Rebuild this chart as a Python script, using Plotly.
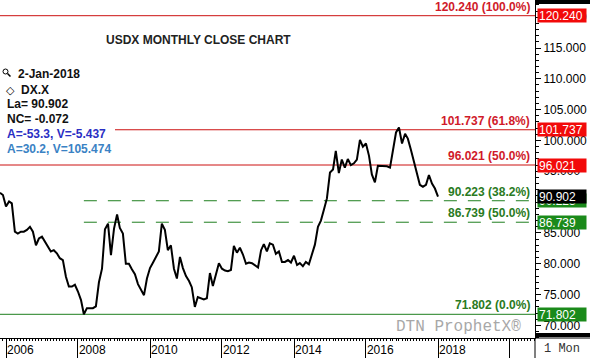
import pandas as pd
import plotly.graph_objects as go

W, H = 590, 358

# ---------------- data ----------------
month_start = "2005-11-01"
month_end = "2018-01-01"
closes = [
    91.5, 91.15,                                                            # Nov-Dec 2005
    89.3, 90.1, 89.8, 85.2, 84.9, 85.2, 85.2, 85.5, 86.0, 85.2, 83.0, 84.1,  # 2006
    84.4, 83.6, 83.0, 82.0, 82.2, 81.7, 80.9, 80.6, 77.9, 76.3, 76.3, 76.6,  # 2007
    75.5, 74.1, 71.802, 72.8, 72.8, 72.8, 73.1, 77.0, 79.2, 85.6, 86.5, 81.4,  # 2008
    85.7, 88.0, 85.8, 84.9, 80.0, 80.0, 79.1, 78.3, 76.7, 75.9, 74.9, 77.6,  # 2009
    79.3, 80.2, 81.0, 82.0, 86.5, 85.5, 82.2, 83.0, 79.2, 77.6, 81.1, 79.3,  # 2010
    78.0, 77.2, 76.2, 73.0, 74.6, 74.4, 74.2, 74.4, 78.5, 76.4, 78.4, 80.1,  # 2011
    79.2, 78.9, 78.8, 79.0, 82.9, 81.8, 82.6, 81.5, 80.0, 80.2, 80.1, 79.8,  # 2012
    79.4, 82.2, 83.2, 82.0, 83.3, 83.1, 81.6, 82.0, 80.3, 80.3, 80.6, 80.2,  # 2013
    81.3, 79.8, 80.1, 79.6, 80.3, 79.9, 81.6, 83.1, 86.0, 87.0, 88.8, 90.6,  # 2014
    94.8, 95.3, 98.3, 94.7, 96.9, 95.6, 97.0, 96.0, 96.3, 96.9, 100.1, 99.0,  # 2015
    99.5, 97.5, 94.5, 93.2, 95.9, 95.9, 95.8, 95.8, 95.6, 98.5, 101.3, 102.1,  # 2016
    99.5, 101.1, 100.3, 98.5, 96.6, 94.8, 92.8, 92.5, 92.8, 94.4, 93.0, 92.2,  # 2017
    90.902,                                                                  # Jan 2018
]
dates = pd.date_range(month_start, month_end, freq="MS")

fib_levels = [120.240, 101.737, 96.021, 90.223, 86.739, 71.802]
fib_pcts = ["100.0%", "61.8%", "50.0%", "38.2%", "50.0%", "0.0%"]
fib_kind = ["red", "red", "red", "green_dash", "green_dash", "green"]
fib_dash_start = "2008-03-01"

tag_values = [120.240, 101.737, 96.021, 90.223, 90.902, 86.739, 71.802]
tag_colors = ["#f20a0a", "#f20a0a", "#f20a0a", "#1a8a1a", "#000000", "#1a8a1a", "#1a8a1a"]

year_ticks = ["2006-01-01", "2008-01-01", "2010-01-01", "2012-01-01",
              "2014-01-01", "2016-01-01", "2018-01-01", "2020-01-01"]
year_labels = ["2006", "2008", "2010", "2012", "2014", "2016", "2018", ""]

info_lines = ["2-Jan-2018", "DX.X", "La= 90.902", "NC= -0.072",
              "A=-53.3, V=-5.437", "A=30.2, V=105.474"]
info_colors = ["#111111", "#111111", "#111111", "#111111", "#2a2fc4", "#3a82c4"]

title_text = "USDX MONTHLY CLOSE CHART"

# ---------------- geometry ----------------
plot_right_px = 535
plot_bottom_px = 338
xdom_end = plot_right_px / W
ydom_start = (H - plot_bottom_px) / H

px_per_year = 36.0
x0 = pd.Timestamp("2006-01-01") - pd.Timedelta(days=6 * 365.25 / px_per_year)
x1 = pd.Timestamp("2006-01-01") + pd.Timedelta(days=(plot_right_px - 6) * 365.25 / px_per_year)

px_per_unit = 6.165
y_at_low_px = 314.3
y_bottom = 71.802 - (plot_bottom_px - y_at_low_px) / px_per_unit
y_top = 120.240 + 15.7 / px_per_unit


def py(px):
    return 1 - px / H


def pxx(px):
    return px / W


SANS = "Liberation Sans, Arial, sans-serif"
MONO = "Liberation Mono, Courier New, monospace"

fig = go.Figure()
fig.add_trace(go.Scatter(
    x=dates, y=closes, mode="lines",
    line=dict(color="black", width=2),
    hoverinfo="skip", showlegend=False,
))

shapes = []
annotations = []

# fib lines & labels
for lvl, pct, kind in zip(fib_levels, fib_pcts, fib_kind):
    if kind == "red":
        color, txtcol = "#cc1111", "#d01a2a"
        shapes.append(dict(type="line", xref="paper", yref="y", x0=0, x1=xdom_end,
                           y0=lvl, y1=lvl, line=dict(color=color, width=1), layer="below"))
    elif kind == "green":
        color, txtcol = "#1f7f1f", "#2a7a22"
        shapes.append(dict(type="line", xref="paper", yref="y", x0=0, x1=xdom_end,
                           y0=lvl, y1=lvl, line=dict(color=color, width=1), layer="below"))
    else:
        color, txtcol = "#1f7f1f", "#2a7a22"
        shapes.append(dict(type="line", xref="x", yref="y", x0=fib_dash_start, x1=x1,
                           y0=lvl, y1=lvl, line=dict(color=color, width=1, dash="13px,11px"),
                           layer="below"))
    annotations.append(dict(xref="paper", yref="y", x=pxx(532), y=lvl,
                            xanchor="right", yanchor="bottom", yshift=0,
                            text=f"<b>{lvl:.3f} ({pct})</b>", showarrow=False,
                            font=dict(family=SANS, size=12, color=txtcol)))

# white box behind info text
shapes.append(dict(type="rect", xref="paper", yref="paper", x0=0, x1=pxx(115),
                   y0=py(131), y1=py(62), fillcolor="white", line=dict(width=0), layer="above"))

# black bars on the right axis & borders
shapes.append(dict(type="rect", xref="paper", yref="paper", x0=xdom_end, x1=1,
                   y0=py(4), y1=1, fillcolor="black", line=dict(width=0)))
shapes.append(dict(type="rect", xref="paper", yref="paper", x0=xdom_end, x1=1,
                   y0=py(337), y1=py(333), fillcolor="black", line=dict(width=0)))
shapes.append(dict(type="line", xref="paper", yref="paper", x0=xdom_end, x1=1,
                   y0=ydom_start, y1=ydom_start, line=dict(color="black", width=1)))
shapes.append(dict(type="line", xref="paper", yref="paper", x0=xdom_end, x1=xdom_end,
                   y0=0, y1=ydom_start, line=dict(color="black", width=1)))

# magnifier icon
shapes.append(dict(type="circle", xref="paper", yref="paper", x0=pxx(3), x1=pxx(8),
                   y0=py(74), y1=py(69), line=dict(color="black", width=1)))
shapes.append(dict(type="line", xref="paper", yref="paper", x0=pxx(7.5), x1=pxx(10.5),
                   y0=py(73.5), y1=py(76.5), line=dict(color="black", width=1.5)))

# axis tags
for val, col in zip(tag_values, tag_colors):
    annotations.append(dict(xref="paper", yref="y", x=pxx(537), y=val,
                            xanchor="left", yanchor="middle",
                            text=f"{val:.3f}", showarrow=False, align="left",
                            width=46, height=11, borderpad=1,
                            bgcolor=col, font=dict(family=SANS, size=12, color="white")))

# title
annotations.append(dict(xref="paper", yref="paper", x=pxx(198), y=py(40),
                        xanchor="center", yanchor="middle", text=f"<b>{title_text}</b>",
                        showarrow=False, font=dict(family=SANS, size=12, color="#222222")))

# info text
info_y = [73.5, 90, 104, 119, 134, 149]
info_x = [16, 19, 5, 5, 5, 5]
for t, c, yy, xx in zip(info_lines, info_colors, info_y, info_x):
    annotations.append(dict(xref="paper", yref="paper", x=pxx(xx), y=py(yy),
                            xanchor="left", yanchor="middle", text=f"<b>{t}</b>",
                            showarrow=False, font=dict(family=SANS, size=12, color=c)))
# diamond glyph
annotations.append(dict(xref="paper", yref="paper", x=pxx(4), y=py(90),
                        xanchor="left", yanchor="middle", text="<b>◇</b>",
                        showarrow=False, font=dict(family="DejaVu Sans", size=11, color="black")))

# watermark
annotations.append(dict(xref="paper", yref="paper", x=pxx(523), y=py(327),
                        xanchor="right", yanchor="middle", text="DTN ProphetX®",
                        showarrow=False, font=dict(family=MONO, size=16, color="#a8a8a8")))
# period box
annotations.append(dict(xref="paper", yref="paper", x=pxx(562), y=py(349),
                        xanchor="center", yanchor="middle", text="1 Mon",
                        showarrow=False, font=dict(family=MONO, size=12, color="#333333")))

fig.update_layout(
    width=W, height=H,
    margin=dict(l=0, r=0, t=0, b=0),
    paper_bgcolor="white", plot_bgcolor="white",
    showlegend=False,
    shapes=shapes, annotations=annotations,
    xaxis=dict(
        type="date", domain=[0, xdom_end], range=[x0, x1],
        tickmode="array", tickvals=year_ticks, ticktext=year_labels,
        ticks="outside", ticklen=20, tickcolor="black", tickwidth=1,
        ticklabelposition="outside right", ticklabelstandoff=1,
        tickfont=dict(family=SANS, size=12, color="black"),
        showgrid=False, zeroline=False, showline=True, linecolor="black", linewidth=1,
        minor=dict(ticks="outside", dtick="M1", tick0="2006-01-01", ticklen=2,
                   tickcolor="black", showgrid=False),
        automargin=False, fixedrange=True,
    ),
    yaxis=dict(
        domain=[ydom_start, 1], range=[y_bottom, y_top], side="right", anchor="x",
        tick0=0, dtick=5, tickformat=".3f",
        ticks="outside", ticklen=5, tickcolor="black",
        tickfont=dict(family=SANS, size=12, color="black"),
        showgrid=False, zeroline=False, showline=True, linecolor="black", linewidth=1,
        minor=dict(ticks="outside", dtick=1, ticklen=3, tickcolor="black", showgrid=False),
        automargin=False, fixedrange=True,
    ),
)

fig.write_html(
    "out.html",
    config={"displayModeBar": False},
    post_script="document.body.style.margin='0';document.body.style.overflow='hidden';",
)
